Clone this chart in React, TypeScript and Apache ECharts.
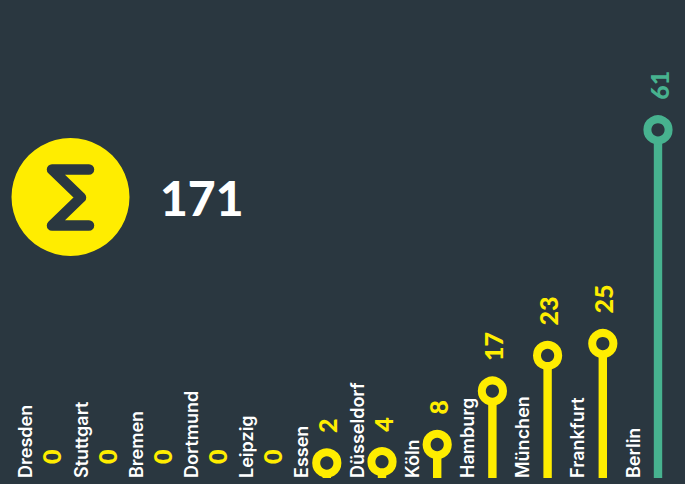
import React, { useEffect, useRef } from "react";
import * as echarts from "echarts";

const categories = ["Dresden", "Stuttgart", "Bremen", "Dortmund", "Leipzig", "Essen", "Düsseldorf", "Köln", "Hamburg", "München", "Frankfurt", "Berlin"];
const values = [0, 0, 0, 0, 0, 2, 4, 8, 17, 23, 25, 61];
const total = "171";
const highlightValue = 61;

const BG = "#2a3740";
const YELLOW = "#ffed00";
const GREEN = "#47b28f";
const FONT = "Inter";
const BASE_Y = 478;

const renderItem = (params: any, api: any) => {
  const v = api.value(1);
  const [x, rawY] = api.coord([api.value(0), v]);
  const color = v === highlightValue ? GREEN : YELLOW;
  const cy = Math.min(rawY, 464.3 - 0.65 * v);
  const labelBottom = v === 0 ? 464 : cy - 30;
  const children: any[] = [];
  if (v > 0) {
    children.push({ type: "rect", shape: { x: x - 4.2, y: cy, width: 8.4, height: BASE_Y - cy }, style: { fill: color } });
    children.push({ type: "circle", shape: { cx: x, cy, r: 10.6 }, style: { fill: BG, stroke: color, lineWidth: 8 } });
  }
  children.push({
    type: "text",
    x: x + 0.5,
    y: labelBottom,
    rotation: Math.PI / 2,
    style: { text: String(v), align: "left", verticalAlign: "middle", fill: color, font: `900 25px Lato` },
  });
  return { type: "group", children };
};

export default function App() {
  const ref = useRef<HTMLDivElement>(null);
  useEffect(() => {
    document.body.style.margin = "0";
    document.body.style.background = BG;
    const chart = echarts.init(ref.current!, undefined, { renderer: "svg" });
    chart.setOption({
      animation: false,
      backgroundColor: BG,
      grid: [
        { outerBoundsMode: "none", left: 23.2, right: -0.6, top: 17, bottom: -8 },
        { outerBoundsMode: "none", left: -1.8, right: 24.4, top: 17, bottom: 6 },
      ],
      xAxis: [
        {
          type: "category",
          gridIndex: 0,
          data: categories,
          axisLine: { show: false },
          axisTick: { show: false },
          splitLine: { show: false },
          axisLabel: { show: false },
        },
        {
          type: "category",
          gridIndex: 1,
          data: categories,
          axisLine: { show: false },
          axisTick: { show: false },
          splitLine: { show: false },
          axisLabel: {
            interval: 0,
            inside: true,
            rotate: 90,
            margin: 0,
            align: "left",
            verticalAlign: "middle",
            color: "#ffffff",
            fontFamily: FONT,
            fontWeight: 600,
            fontSize: 18,
          },
        },
      ],
      yAxis: [
        { type: "value", gridIndex: 0, min: 0, max: 80, show: false },
        { type: "value", gridIndex: 1, min: 0, max: 80, show: false },
      ],
      graphic: [
        { type: "circle", shape: { cx: 70.5, cy: 197, r: 59 }, style: { fill: YELLOW } },
        {
          type: "polyline",
          shape: { points: [[89, 169.5], [52, 169.5], [81, 197.5], [52, 225.5], [89, 225.5]] },
          style: { fill: "none", stroke: BG, lineWidth: 10.5, lineCap: "round", lineJoin: "round" },
        },
        { type: "text", x: 160, y: 197, style: { text: total, fill: "#ffffff", font: "900 48px Lato", align: "left", verticalAlign: "middle" } },
      ],
      series: [
        {
          type: "custom",
          clip: false,
          xAxisIndex: 0,
          yAxisIndex: 0,
          renderItem,
          encode: { x: 0, y: 1 },
          data: values.map((v, i) => [i, v]),
        },
      ],
    });
    return () => chart.dispose();
  }, []);
  return <div ref={ref} style={{ width: 685, height: 484 }} />;
}
